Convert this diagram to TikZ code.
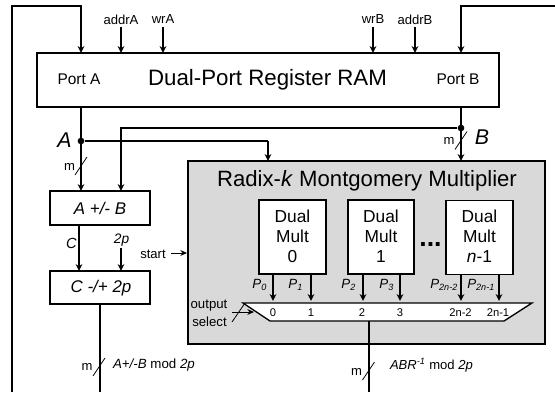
\documentclass[tikz,border=0pt]{standalone}
\usepackage{fontspec}
\setmainfont{Liberation Sans}
\usetikzlibrary{arrows.meta}
\definecolor{panel}{RGB}{217,217,217}
\newcommand{\fs}[1]{\fontsize{#1}{#1}\selectfont}
\tikzset{
  x=0.75pt,y=-0.75pt,
  wire/.style={line width=1.1pt},
  arr/.style={wire,-{Stealth[length=5.2pt,width=5pt]}},
  thinarr/.style={line width=0.75pt,-{Stealth[length=5pt,width=4.4pt]}},
  boxx/.style={draw=black,line width=1.1pt,fill=white,anchor=north west,inner sep=0pt,outer sep=0pt},
  slash/.style={line width=0.6pt},
  txt/.style={inner sep=0pt,outer sep=0pt},
  small/.style={txt,font=\fs{9.8}},
  med/.style={txt,font=\fs{11.6}},
  big/.style={txt,font=\fs{16.7}},
  dot/.style={circle,fill=black,inner sep=0pt,minimum size=5pt}
}
\begin{document}
\begin{tikzpicture}
\useasboundingbox (0,0) rectangle (555,392);
% panel
\node[boxx,fill=panel,minimum width=357*0.75pt,minimum height=183*0.75pt] (panel) at (188,161) {};
% RAM
\node[boxx,minimum width=462*0.75pt,minimum height=54*0.75pt] (ram) at (37,53) {};
\node[big] (ramt) at (267.5,80) {Dual-Port Register RAM};
\node[med] (pa) at (79,79.5) {Port A};
\node[med] (pb) at (458,79.5) {Port B};
\node[small] (addrA) at (121,19.5) {addrA};
\node[small] (wrA) at (163,19.5) {wrA};
\node[small] (wrB) at (373,19.5) {wrB};
\node[small] (addrB) at (415,19.5) {addrB};
\coordinate (rA) at (121,53); \coordinate (rW) at (163,53);
\coordinate (rWB) at (373,53); \coordinate (rAB) at (415,53);
\coordinate (pA) at (81,53); \coordinate (pB) at (461,53);
\coordinate (oA) at (81,107); \coordinate (oB) at (461,107);
\draw[arr] (121,27) -- (rA);
\draw[arr] (163,27) -- (rW);
\draw[arr] (373,27) -- (rWB);
\draw[arr] (415,27) -- (rAB);
\draw[arr] (12,392) -- (12,6) -- (81,6) -- (pA);
\draw[arr] (555,6) -- (461,6) -- (pB);
% A, B
\node[dot] (dA) at (81,141) {};
\node[dot] (dB) at (461,128) {};
\node[txt,font=\fs{16}\itshape] (lA) at (64.5,140) {A};
\node[txt,font=\fs{16}\itshape] (lB) at (482,137) {B};
% add/sub
\node[boxx,minimum width=100*0.75pt,minimum height=34*0.75pt] (add) at (50,191) {};
\node[txt,font=\fs{12.7}\itshape] (addt) at (100,208) {A +/- B};
\node[boxx,minimum width=100*0.75pt,minimum height=33*0.75pt] (cor) at (50,271) {};
\node[txt,font=\fs{12.7}] (cort) at (101,288) {\itshape C -/+ 2p};
\draw[arr] (oA) -- (81,191);
\draw[wire] (dA) -- (268,141);
\draw[arr] (268,141) -- (268,161);
\draw[arr] (dB) -- (121,128) -- (121,191);
\draw[arr] (oB) -- (461,161);
\draw[slash] (75,175) -- (87,157);
\node[small] at (69.5,167) {m};
\draw[slash] (455,149.5) -- (467,131.5);
\node[small] at (449,141) {m};
\draw[arr] (79,225) -- (79,271);
\draw[arr] (121,248) -- (121,271);
\node[txt,font=\fs{11}\itshape] at (71.5,243.5) {C};
\node[txt,font=\fs{10.3}\itshape] at (121.5,240) {2p};
\node[txt,font=\fs{9.8}] (start) at (153,254) {start};
\draw[thinarr] (171,253) -- (187,253);
\draw[wire] (100,304) -- (100,392);
\draw[slash] (93,376) -- (105,358);
\node[small] at (87,367) {m};
\node[txt,font=\fs{10},anchor=west] at (113,365) {\itshape A+/-B\upshape\ mod \itshape 2p};
% panel title
\node[txt,font=\fs{16.6}] (title) at (367,181) {Radix-\textit{k} Montgomery Multiplier};
% multipliers
\node[boxx,minimum width=67*0.75pt,minimum height=74*0.75pt] (m0) at (259,200) {};
\node[boxx,minimum width=66*0.75pt,minimum height=74*0.75pt] (m1) at (348,200) {};
\node[boxx,minimum width=67*0.75pt,minimum height=74*0.75pt] (mn) at (446,200.5) {};
\foreach \n/\x/\t in {m0/292.5/0,m1/381/1,mn/479.5/\textit{n}-1}{
  \node[txt,font=\fs{13}] at (\x,216.5) {Dual};
  \node[txt,font=\fs{13}] at (\x,236.5) {Mult};
  \node[txt,font=\fs{13}] at (\x,257) {\t};
}
\node[txt,font=\bfseries\fs{20}] (dots) at (430.5,245) {...};
% mux
\draw[line width=1pt,fill=white] (243,303) -- (532,303) -- (504,321) -- (270,321) -- cycle;
\foreach \x/\lx/\t in {
 273/267/0,
 311/303/1,
 363/356/2,
 400/394/3,
 461/458/2n-2,
 499/495/2n-1}{
  \draw[arr] (\x,274) -- (\x,301);
  \node[txt,font=\fs{10}\itshape,anchor=east] at (\lx,285) {P\textsubscript{\fs{6.8}\t}};
}
\foreach \x/\t in {273/0,311/1,362/2,400/3}{\node[txt,font=\fs{8.4}] at (\x,313) {\t};}
\node[txt,font=\fs{8.4}] at (460.5,313) {2n-2};
\node[txt,font=\fs{8.4}] at (498,313) {2n-1};
\node[txt,font=\fs{9.9}] at (209,306) {output};
\node[txt,font=\fs{9.9}] at (209.5,322) {select};
\draw[thinarr] (232,312) -- (254,312);
\draw[slash] (232,322) -- (245,303);
% mux output
\draw[wire] (369,321) -- (369,392);
\draw[slash] (362.5,380) -- (374.5,362);
\node[small] at (356.5,372) {m};
\node[txt,font=\fs{9.8},anchor=west] at (390,365) {\itshape ABR\textsuperscript{-1}\upshape\ mod \itshape 2p};
\end{tikzpicture}
\end{document}
